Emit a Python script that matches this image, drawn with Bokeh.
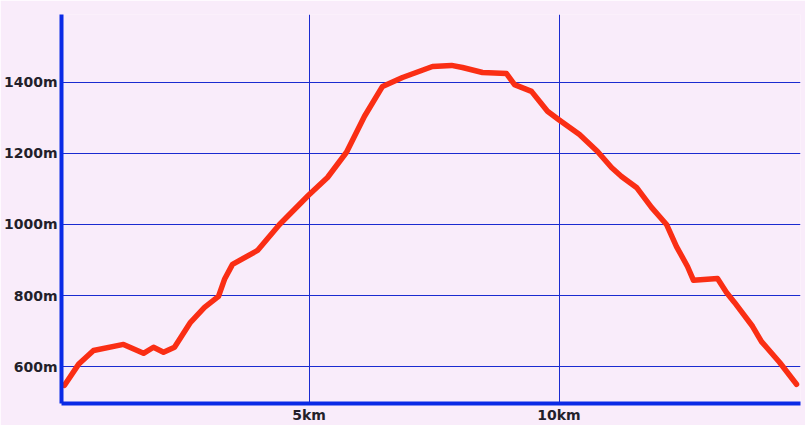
from bokeh.plotting import figure
from bokeh.models import FixedTicker, Range1d
from bokeh.embed import file_html
from bokeh.resources import INLINE

# distance (km) and elevation (m)
dist_km = [0.11, 0.39, 0.69, 1.29, 1.69, 1.89, 2.09, 2.31, 2.63, 2.91, 3.19, 3.31, 3.47,
           3.97, 4.41, 4.99, 5.37, 5.75, 6.11, 6.47, 6.87, 7.47, 7.85, 8.07, 8.47, 8.95,
           9.11, 9.45, 9.77, 9.99, 10.41, 10.77, 11.05, 11.25, 11.55, 11.85, 12.15, 12.35,
           12.57, 12.69, 13.17, 13.35, 13.51, 13.87, 14.05, 14.41, 14.75]
elev_m = [548, 607, 646, 663, 638, 655, 641, 655, 725, 767, 798, 846, 888,
          927, 1000, 1082, 1132, 1203, 1304, 1388, 1413, 1444, 1447, 1441, 1427, 1424,
          1393, 1374, 1318, 1295, 1253, 1205, 1160, 1135, 1104, 1048, 1000, 938,
          882, 843, 848, 809, 781, 714, 671, 613, 551]

x_ticks = [5, 10]
x_tick_labels = ["5km", "10km"]
y_ticks = [600, 800, 1000, 1200, 1400]
y_tick_labels = ["600m", "800m", "1000m", "1200m", "1400m"]

BG = "#f9ecfa"
BLUE = "#0a2ae6"
GRID = "#1a2bd0"

p = figure(frame_width=739, frame_height=389, output_backend="svg", toolbar_location=None,
           x_range=Range1d(0.05, 14.83), y_range=Range1d(497, 1590),
           min_border_left=54, min_border_right=5, min_border_top=14, min_border_bottom=18,
           background_fill_color=BG, border_fill_color=BG, outline_line_color=None)

p.line(dist_km, elev_m, line_color="#fa2e14", line_width=5.5, line_join="round", line_cap="round")

p.xaxis.ticker = FixedTicker(ticks=x_ticks)
p.xaxis.major_label_overrides = dict(zip(x_ticks, x_tick_labels))
p.yaxis.ticker = FixedTicker(ticks=y_ticks)
p.yaxis.major_label_overrides = dict(zip(y_ticks, y_tick_labels))

for ax in (p.xaxis, p.yaxis):
    ax.axis_line_color = BLUE
    ax.axis_line_width = 4
    ax.major_tick_line_color = None
    ax.minor_tick_line_color = None
    ax.major_tick_out = 0
    ax.major_tick_in = 0
    ax.minor_tick_out = 0
    ax.minor_tick_in = 0
    ax.major_label_text_font = "DejaVu Sans"
    ax.major_label_text_font_style = "bold"
    ax.major_label_text_font_size = "14px"
    ax.major_label_text_color = "#231f2a"
p.xaxis.major_label_standoff = 3
p.yaxis.major_label_standoff = 4

p.xgrid.grid_line_color = GRID
p.ygrid.grid_line_color = GRID
p.xgrid.grid_line_width = 1
p.ygrid.grid_line_width = 1

open("out.html", "w").write(file_html(p, INLINE))
